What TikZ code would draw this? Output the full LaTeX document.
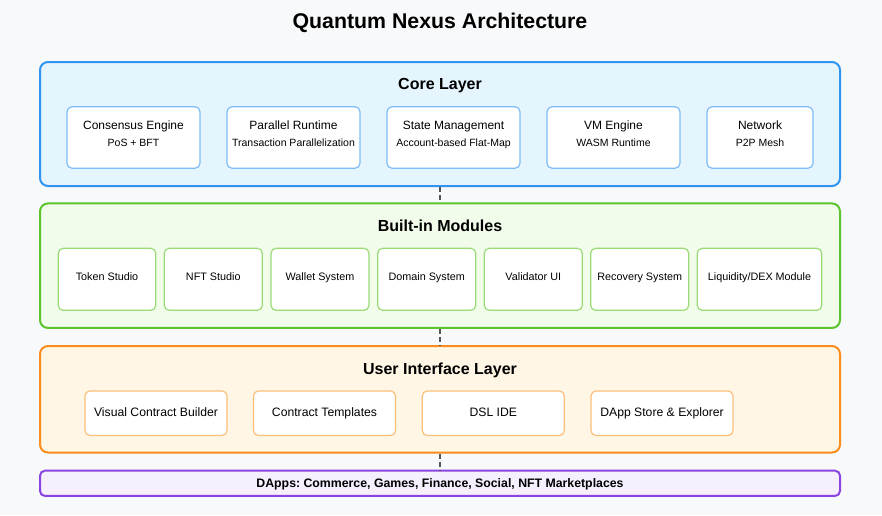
\documentclass[tikz,border=0pt]{standalone}
\usepackage{fontspec}
\setmainfont{Liberation Sans}
\usepackage{xcolor}
\frenchspacing

\definecolor{pagebg}{HTML}{F8F9FA}
\definecolor{coreline}{HTML}{2F95F0}
\definecolor{corefill}{HTML}{E4F5FE}
\definecolor{coresub}{HTML}{7DBDF7}
\definecolor{modline}{HTML}{5CC52E}
\definecolor{modfill}{HTML}{F2FCEB}
\definecolor{modsub}{HTML}{9ADB78}
\definecolor{uiline}{HTML}{F98E1E}
\definecolor{uifill}{HTML}{FFF6E5}
\definecolor{uisub}{HTML}{FBBF7A}
\definecolor{appline}{HTML}{8A45E0}
\definecolor{appfill}{HTML}{F6EFFE}
\definecolor{linkgray}{HTML}{555555}

\tikzset{
  layer/.style={draw, line width=2, rounded corners=8, minimum width=800, minimum height=#1},
  layertitle/.style={font=\fontsize{16}{19}\selectfont\bfseries, text height=0.72em, text depth=0.21em},
  subbox/.style={draw, fill=white, line width=1.2, rounded corners=5, text height=0.72em, text depth=0.21em},
  link/.style={draw=linkgray, line width=2, dash pattern=on 5 off 3}
}

\begin{document}
\begin{tikzpicture}[x=1pt,y=-1pt]
    % Background
    \fill[pagebg] (0,0) rectangle (882,515);
    \node[font=\fontsize{21.3}{25}\selectfont\bfseries] (title) at (440,22.5) {Quantum Nexus Architecture};

    % Core layer
    \node[layer=124, draw=coreline, fill=corefill] (core) at (440,124) {};
    \node[layertitle] (coreT) at (440,86.6) {Core Layer};
    \tikzset{coresubbox/.style={subbox, draw=coresub, minimum width=#1, minimum height=61.5}}
    \tikzset{coretext/.style={align=center, font=\fontsize{12}{17}\selectfont, text depth=3}}
    \node[coresubbox=133] (cons) at (133.5,137.5) {};
    \node[coresubbox=133] (para) at (293.5,137.5) {};
    \node[coresubbox=133] (state) at (453.5,137.5) {};
    \node[coresubbox=133] (vm) at (613.5,137.5) {};
    \node[coresubbox=106] (net) at (760,137.5) {};
    \node[coretext] (consT) at ([yshift=2]cons.center) {Consensus Engine\\{\fontsize{10.5}{12}\selectfont PoS + BFT}};
    \node[coretext] (paraT) at ([yshift=2]para.center) {Parallel Runtime\\{\fontsize{10.5}{12}\selectfont Transaction Parallelization}};
    \node[coretext] (stateT) at ([yshift=2]state.center) {State Management\\{\fontsize{10.5}{12}\selectfont Account-based Flat-Map}};
    \node[coretext] (vmT) at ([yshift=2]vm.center) {VM Engine\\{\fontsize{10.5}{12}\selectfont WASM Runtime}};
    \node[coretext] (netT) at ([yshift=2]net.center) {Network\\{\fontsize{10.5}{12}\selectfont P2P Mesh}};

    % Built-in modules
    \node[layer=124.5, draw=modline, fill=modfill] (mods) at (440,265.7) {};
    \node[layertitle] (modsT) at (440,229) {Built-in Modules};
    \tikzset{modbox/.style={subbox, draw=modsub, minimum width=#1, minimum height=62, text depth=0.45em, font=\fontsize{10.8}{13}\selectfont}}
    \node[modbox=97.5] (token) at (107,279.3) {Token Studio};
    \node[modbox=98] (nft) at (213.3,279.3) {NFT Studio};
    \node[modbox=98] (wallet) at (320,279.3) {Wallet System};
    \node[modbox=98] (domain) at (426.7,279.3) {Domain System};
    \node[modbox=98] (valid) at (533.3,279.3) {Validator UI};
    \node[modbox=98] (recov) at (639.7,279.3) {Recovery System};
    \node[modbox=124.5] (dex) at (759.5,279.3) {Liquidity/DEX Module};

    % User interface layer
    \node[layer=106.5, draw=uiline, fill=uifill] (ui) at (440,399.3) {};
    \node[layertitle] (uiT) at (440,371.5) {User Interface Layer};
    \tikzset{uibox/.style={subbox, draw=uisub, minimum width=142, minimum height=44.6, text height=0.9em, font=\fontsize{12.2}{14}\selectfont}}
    \node[uibox] (visual) at (156,413.2) {Visual Contract Builder};
    \node[uibox] (templ) at (324.5,413.2) {Contract Templates};
    \node[uibox] (dsl) at (493.3,413.2) {DSL IDE};
    \node[uibox] (store) at (662,413.2) {DApp Store \& Explorer};

    % DApps bar
    \node[layer=25.3, draw=appline, fill=appfill, rounded corners=5,
          font=\fontsize{12.3}{14}\selectfont\bfseries, text height=1.1em, text depth=0.21em] (dapps) at (440,483.3)
          {DApps: Commerce, Games, Finance, Social, NFT Marketplaces};

    % Links between layers
    \draw[link] (core.south) -- (mods.north);
    \draw[link] (mods.south) -- (ui.north);
    \draw[link] (ui.south) -- (dapps.north);
\end{tikzpicture}
\end{document}
